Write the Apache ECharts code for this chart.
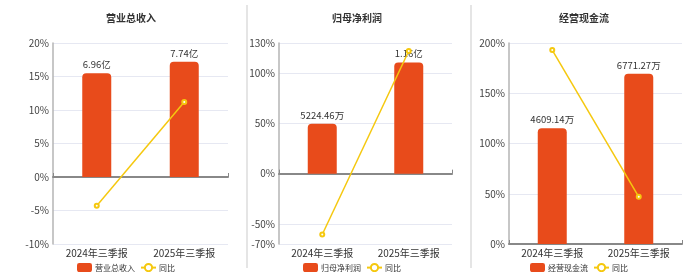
<!DOCTYPE html>
<html><head><meta charset="utf-8">
<script src="https://cdn.jsdelivr.net/npm/echarts@6/dist/echarts.min.js"></script>
<style>html,body{margin:0;padding:0;background:#fff}#c{width:700px;height:272px}</style>
</head><body><div id="c"></div>
<script>
const categories = ['2024年三季报', '2025年三季报'];
const titles = ['营业总收入', '归母净利润', '经营现金流'];
const barValues1 = [6.96, 7.74];          // 亿
const barLabels1 = ['6.96亿', '7.74亿'];
const yoy1 = [-4.3, 11.2];
const barValues2 = [5224.46, 11600];      // 万
const barLabels2 = ['5224.46万', '1.16亿'];
const yoy2 = [-60.5, 122.0];
const barValues3 = [4609.14, 6771.27];    // 万
const barLabels3 = ['4609.14万', '6771.27万'];
const yoy3 = [193, 46.9];
const yRange1 = [-10, 20];
const yRange2 = [-70, 130];
const yRange3 = [0, 200];
const barRange1 = [-4.5, 9];
const barRange2 = [-7350, 13650];
const barRange3 = [0, 8000];
const yoyName = '同比';

const BAR = '#e84b1b', LINE = '#f5c80f';
const font = '"Noto Sans CJK SC", sans-serif';
const panels = [
  {left: 53, width: 175, cx: 126, bars: barValues1, labels: barLabels1, yoy: yoy1, yr: yRange1, br: barRange1, interval: 5},
  {left: 279, width: 173, cx: 352, bars: barValues2, labels: barLabels2, yoy: yoy2, yr: yRange2, br: barRange2, split: 4},
  {left: 509, width: 173, cx: 579, bars: barValues3, labels: barLabels3, yoy: yoy3, yr: yRange3, br: barRange3, interval: 50}
];
const grid = [], xAxis = [], yAxis = [], series = [], title = [], legend = [];
panels.forEach((p, i) => {
  grid.push({left: p.left, width: p.width, top: 43, height: 201});
  title.push({text: titles[i], left: p.cx, top: 8, textAlign: 'center',
    textStyle: {fontSize: 10, fontWeight: 'bold', color: '#333', fontFamily: font}});
  legend.push({data: [titles[i], yoyName], left: p.cx, top: 258,
    itemWidth: 15, itemHeight: 9, itemGap: 5,
    textStyle: {fontSize: 8, color: '#333', fontFamily: font, padding: [0, 0, 0, -2]}});
  xAxis.push({type: 'category', gridIndex: i, data: categories, position: 'bottom',
    axisLine: {show: false}, axisTick: {show: false}, splitLine: {show: false},
    axisLabel: {interval: 0, fontSize: 10, color: '#333', margin: 4, fontFamily: font}});
  xAxis.push({type: 'category', gridIndex: i, data: categories,
    axisLine: {show: true, onZero: true, onZeroAxisIndex: i * 2, lineStyle: {color: '#888', width: 2}},
    axisTick: {show: true, length: 4, lineStyle: {color: '#888'}}, axisLabel: {show: false}, splitLine: {show: false}});
  const ya = {type: 'value', gridIndex: i, min: p.yr[0], max: p.yr[1],
    axisLine: {show: true, lineStyle: {color: '#b5b5b5', width: 1.5}}, axisTick: {show: false},
    axisLabel: {fontSize: 10, color: '#444', formatter: '{value}%', margin: 4, fontFamily: font},
    splitLine: {lineStyle: {color: '#e6e8f2'}}};
  if (p.interval) ya.interval = p.interval; else ya.splitNumber = p.split;
  yAxis.push(ya);
  yAxis.push({type: 'value', gridIndex: i, min: p.br[0], max: p.br[1], show: false, splitLine: {show: false}});
  series.push({name: titles[i], type: 'bar', xAxisIndex: i * 2, yAxisIndex: i * 2 + 1, data: p.bars,
    barWidth: 29, itemStyle: {color: BAR, borderRadius: [4, 4, 0, 0]},
    label: {show: true, position: 'top', fontSize: 9.5, color: '#333', distance: 4, fontFamily: font,
      formatter: (d) => p.labels[d.dataIndex]}});
  series.push({name: yoyName, type: 'line', xAxisIndex: i * 2, yAxisIndex: i * 2, data: p.yoy,
    symbol: 'emptyCircle', symbolSize: 4, itemStyle: {color: LINE}, lineStyle: {color: LINE, width: 1.5}, z: 5});
});
const chart = echarts.init(document.getElementById('c'), null, {renderer: 'canvas'});
chart.setOption({
  animation: false, title, legend, grid, xAxis, yAxis, series,
  graphic: [
    {type: 'line', shape: {x1: 247, y1: 5, x2: 247, y2: 268}, style: {stroke: '#dcdcdc', lineWidth: 1.5}},
    {type: 'line', shape: {x1: 471, y1: 5, x2: 471, y2: 268}, style: {stroke: '#dcdcdc', lineWidth: 1.5}}
  ]
});
const widths = panels.map((p, i) => {
  const v = chart.getViewOfComponentModel(chart.getModel().getComponent('legend', i));
  return v.group.getBoundingRect().width;
});
chart.setOption({legend: panels.map((p, i) => ({left: Math.round(p.cx - widths[i] / 2)}))});
</script></body></html>
